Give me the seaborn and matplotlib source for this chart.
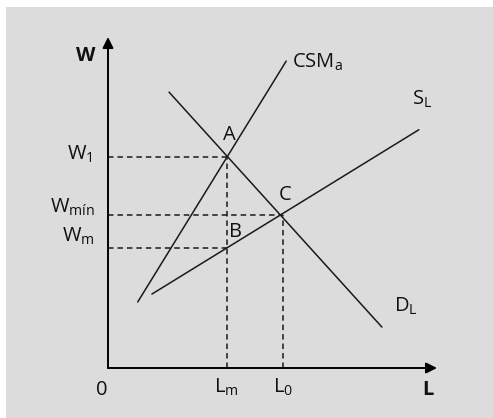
import matplotlib
matplotlib.use("Agg")
import matplotlib.pyplot as plt
import seaborn as sns
import pandas as pd
from matplotlib.patches import Rectangle

sns.set_theme(style="white")
plt.rcParams['font.family'] = ['Open Sans', 'DejaVu Sans']
plt.rcParams['mathtext.fontset'] = 'custom'
plt.rcParams['mathtext.rm'] = 'Open Sans'
plt.rcParams['mathtext.it'] = 'Open Sans'
plt.rcParams['mathtext.bf'] = 'Open Sans:bold'

# ---- data (arbitrary units) ----
csm_x = [9, 54]
csm_y = [20, 93]
sl_x = [13.3, 94.2]
sl_y = [22.4, 72.2]
dl_x = [18.5, 83]
dl_y = [83.6, 12.4]
Lm, L0 = 36, 53
W1, Wmin, Wm = 64, 46.5, 36.5

GRAY = '#dcdcdc'
fig = plt.figure(figsize=(4.93, 4.18), dpi=100)
fig.patch.set_facecolor('white')
ax = fig.add_axes([0, 0, 1, 1])
ax.set_facecolor('none')
ax.add_patch(Rectangle((6 / 493, 0), 1, (418 - 7) / 418, transform=fig.transFigure,
                       facecolor=GRAY, edgecolor='none', zorder=-10, clip_on=False))
s = 3.3
ax.set_xlim(-108 / s, (493 - 108) / s)
ax.set_ylim(-(418 - 368) / s, 368 / s)
ax.axis('off')

curves = pd.concat([
    pd.DataFrame({'x': csm_x, 'y': csm_y, 'c': 'CSMa'}),
    pd.DataFrame({'x': sl_x, 'y': sl_y, 'c': 'SL'}),
    pd.DataFrame({'x': dl_x, 'y': dl_y, 'c': 'DL'}),
])
sns.lineplot(data=curves, x='x', y='y', units='c', estimator=None, color='#1a1a1a',
             lw=1.1, ax=ax, legend=False, sort=False)

dash = (0, (3.6, 2.6))
kw = dict(color='#1a1a1a', lw=1.1, linestyle=dash)
ax.plot([0, Lm], [W1, W1], **kw)
ax.plot([0, L0], [Wmin, Wmin], **kw)
ax.plot([0, Lm], [Wm, Wm], **kw)
ax.plot([Lm, Lm], [0, W1], **kw)
ax.plot([L0, L0], [0, Wmin], **kw)

# axes with arrows
arrow = dict(arrowstyle='-|>', color='black', lw=1.4, mutation_scale=16, shrinkA=0, shrinkB=0)
ax.annotate('', xy=(0, 100.3), xytext=(0, 0), arrowprops=arrow)
ax.annotate('', xy=(99.7, 0), xytext=(0, 0), arrowprops=arrow)

fs = 14.5
tk = dict(fontsize=fs, color='#111111', va='baseline')
ax.text(-6.7, 93, 'W', fontweight='bold', ha='center', **tk)
ax.text(97, -8.2, 'L', fontweight='bold', ha='center', **tk)
ax.text(-1.8, -8.2, '0', ha='center', **tk)
ax.text(Lm, -7.6, r'L$_{\mathrm{m}}$', ha='center', **tk)
ax.text(L0, -7.6, r'L$_{\mathrm{0}}$', ha='center', **tk)
ax.text(-4.5, 63, r'W$_{\mathrm{1}}$', ha='right', **tk)
ax.text(-3.9, 47, r'W$_{\mathrm{mín}}$', ha='right', **tk)
ax.text(-3.9, 38.2, r'W$_{\mathrm{m}}$', ha='right', **tk)
ax.text(36.7, 69, 'A', ha='center', **tk)
ax.text(38.5, 39.7, 'B', ha='center', **tk)
ax.text(53.6, 51, 'C', ha='center', **tk)
ax.text(55.8, 90.9, r'CSM$_{\mathrm{a}}$', ha='left', **tk)
ax.text(92, 79.7, r'S$_{\mathrm{L}}$', ha='left', **tk)
ax.text(86.7, 17, r'D$_{\mathrm{L}}$', ha='left', **tk)

fig.savefig('out.png', dpi=100, facecolor=fig.get_facecolor())
